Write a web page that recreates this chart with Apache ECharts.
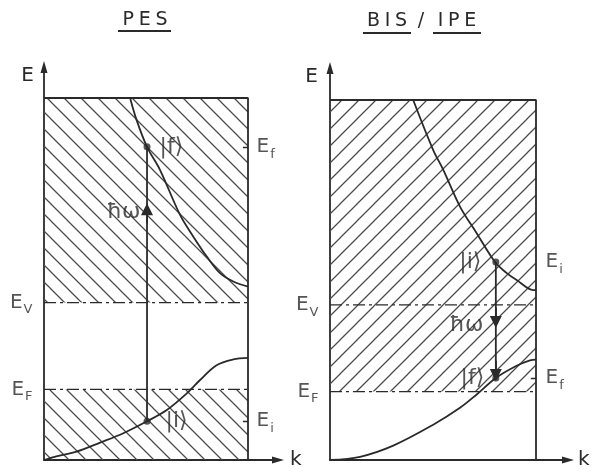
<!DOCTYPE html>
<html>
<head>
<meta charset="utf-8">
<script src="https://cdn.jsdelivr.net/npm/echarts@6/dist/echarts.min.js"></script>
<style>
  html, body { margin: 0; padding: 0; background: #fff; }
  #chart { width: 594px; height: 476px; }
</style>
</head>
<body>
<div id="chart"></div>
<script>
// Schematic band pictures for photoemission (PES) and inverse photoemission (BIS/IPE).
// Energies are in arbitrary units: the drawn box spans k = 0..1 and E = 0..10.

const BOX_K = [0, 1];
const BOX_E = [0, 10];

// ---- PES panel ----
const pesUpperK = [0.422, 0.454, 0.505, 0.569, 0.667, 0.732, 0.798, 0.863, 0.928, 1.0];
const pesUpperE = [10.0, 9.39, 8.65, 8.01, 6.77, 6.17, 5.62, 5.16, 4.93, 4.79];
const pesLowerK = [0, 0.065, 0.16, 0.275, 0.389, 0.505, 0.602, 0.7, 0.765, 0.846, 0.928, 1.0];
const pesLowerE = [0, 0.11, 0.23, 0.48, 0.74, 1.07, 1.38, 1.84, 2.21, 2.62, 2.78, 2.82];
const pesVacuum = 4.35;   // E_V
const pesFermi = 1.95;    // E_F
const pesK = 0.505;       // k of the vertical transition
const pesEi = 1.07;       // |i>
const pesEf = 8.65;       // |f>
const pesArrowE = 6.93;   // arrow head on the photon line
// hatched (occupied / unoccupied continuum) regions: [k0, E0, k1, E1]
const pesHatch = [[0, pesVacuum, 1, 10], [0, 0, 1, pesFermi]];

// ---- BIS / IPE panel ----
const bisUpperK = [0.404, 0.501, 0.55, 0.631, 0.712, 0.801, 0.858, 0.906, 0.987, 1.0];
const bisUpperE = [10.0, 8.61, 8.06, 7.04, 6.30, 5.50, 5.19, 5.0, 4.72, 4.72];
const bisLowerK = [0, 0.146, 0.307, 0.501, 0.631, 0.712, 0.805, 0.906, 0.971, 1.0];
const bisLowerE = [0, 0.09, 0.40, 0.98, 1.45, 1.82, 2.28, 2.62, 2.77, 2.79];
const bisVacuum = 4.31;
const bisFermi = 1.90;
const bisK = 0.805;
const bisEi = 5.50;
const bisEf = 2.28;
const bisArrowE = [3.83, 2.36];
const bisHatch = [[0, bisFermi, 1, 10]];

const INK = '#2a2a2a';
const HATCH_INK = '#4a4a4a';
const FONT = 'DejaVu Sans';

// diagonal hatch tile; dir = -1 draws "\" lines, dir = +1 draws "/" lines
function hatchTile(dir) {
  const s = 17;
  const c = document.createElement('canvas');
  c.width = s; c.height = s;
  const g = c.getContext('2d');
  g.strokeStyle = HATCH_INK;
  g.lineWidth = 1.25;
  g.beginPath();
  if (dir > 0) {
    g.moveTo(-2, s + 2); g.lineTo(s + 2, -2);
    g.moveTo(-2, 2); g.lineTo(2, -2);
    g.moveTo(s - 2, s + 2); g.lineTo(s + 2, s - 2);
  } else {
    g.moveTo(-2, -2); g.lineTo(s + 2, s + 2);
    g.moveTo(s - 2, -2); g.lineTo(s + 2, 2);
    g.moveTo(-2, s - 2); g.lineTo(2, s + 2);
  }
  g.stroke();
  return c;
}

const zip = (ks, es) => ks.map((k, i) => [k, es[i]]);

const rich = {
  cap: { fontSize: 20, fontFamily: FONT, color: INK },
  sub: { fontSize: 13, fontFamily: FONT, color: INK, padding: [15, 0, 0, 1] },
  sym: { fontSize: 22, fontFamily: FONT, color: INK }
};

function axisCommon(gridIndex, max, name, nameGap, nameStyle) {
  return {
    gridIndex, type: 'value', min: 0, max,
    name, nameLocation: 'end', nameGap,
    nameTextStyle: Object.assign({ fontSize: 20, fontFamily: FONT, color: INK }, nameStyle),
    axisLine: {
      show: true, onZero: false,
      symbol: ['none', 'triangle'], symbolSize: [7, 12],
      lineStyle: { color: INK, width: 1.8 }
    },
    axisTick: { show: false },
    axisLabel: { show: false },
    splitLine: { show: false }
  };
}

function panelSeries(g, p) {
  const ax = { xAxisIndex: g, yAxisIndex: g };
  const pattern = { image: hatchTile(p.hatchDir), repeat: 'repeat' };
  const line = (data, extra) => Object.assign({
    type: 'line', ...ax, data, symbol: 'none', silent: true,
    lineStyle: { color: INK, width: 1.8 }
  }, extra || {});
  const out = [];
  out.push({
    type: 'custom', ...ax, silent: true,
    data: p.hatch,
    encode: { x: [0, 2], y: [1, 3] },
    renderItem: (params, api) => {
      const a = api.coord([api.value(0), api.value(3)]);
      const b = api.coord([api.value(2), api.value(1)]);
      return {
        type: 'rect',
        shape: { x: a[0], y: a[1], width: b[0] - a[0], height: b[1] - a[1] },
        style: { fill: pattern, stroke: null }
      };
    },
    z: 1
  });
  // top and right edges of the box
  out.push(line([[BOX_K[0], BOX_E[1]], [BOX_K[1], BOX_E[1]], [BOX_K[1], BOX_E[0]]], { z: 3 }));
  // vacuum and Fermi levels (dash-dot)
  [p.vacuum, p.fermi].forEach(E => {
    out.push(line([[BOX_K[0], E], [BOX_K[1], E]], {
      lineStyle: { color: INK, width: 1.3, type: [12, 4, 3, 4] }, z: 3
    }));
  });
  // bands
  out.push(line(p.upper, { smooth: 0.35, z: 4 }));
  out.push(line(p.lower, { smooth: 0.35, z: 4 }));
  // photon transition line
  out.push(line([[p.k, p.Ei], [p.k, p.Ef]], { z: 5 }));
  // arrow heads on the transition line
  out.push({
    type: 'lines', coordinateSystem: 'cartesian2d', ...ax, silent: true,
    symbol: ['none', 'triangle'], symbolSize: [7, 12],
    lineStyle: { color: INK, width: 1.8, opacity: 1 },
    itemStyle: { color: INK },
    data: p.arrows.map(E => ({ coords: [[p.k, E - p.dir * 0.4], [p.k, E]] })),
    z: 6
  });
  // small ticks on the right edge at the state energies
  out.push({
    type: 'lines', coordinateSystem: 'cartesian2d', ...ax, silent: true,
    lineStyle: { color: INK, width: 1.4, opacity: 1 },
    data: p.ticks.map(E => ({ coords: [[BOX_K[1] - 0.025, E], [BOX_K[1], E]] })),
    z: 6
  });
  // states |i> and |f>
  out.push({
    type: 'scatter', ...ax, silent: true, symbolSize: 7,
    itemStyle: { color: INK },
    data: [[p.k, p.Ei], [p.k, p.Ef]], z: 7
  });
  // text labels anchored to data points
  out.push({
    type: 'scatter', ...ax, silent: true, symbolSize: 1,
    itemStyle: { color: 'rgba(0,0,0,0)' },
    label: { show: true, rich, color: INK, fontFamily: FONT, fontSize: 20 },
    data: p.labels.map(l => ({
      value: [l[0], l[1]],
      label: { formatter: l[2], position: l[3], distance: l[4] }
    })),
    z: 8
  });
  return out;
}

const pes = {
  hatchDir: -1, hatch: pesHatch,
  vacuum: pesVacuum, fermi: pesFermi,
  upper: zip(pesUpperK, pesUpperE), lower: zip(pesLowerK, pesLowerE),
  k: pesK, Ei: pesEi, Ef: pesEf, dir: 1, arrows: [pesArrowE],
  ticks: [pesEf, pesEi],
  labels: [
    [0, pesVacuum, '{cap|E}{sub|V}', 'left', 11],
    [0, pesFermi, '{cap|E}{sub|F}', 'left', 11],
    [1, pesEf, '{cap|E}{sub|f}', 'right', 8],
    [1, pesEi, '{cap|E}{sub|i}', 'right', 8],
    [pesK, pesEf, '{sym||f⟩}', 'right', 12],
    [pesK, pesEi, '{sym||i⟩}', 'right', 18],
    [pesK, pesArrowE - 0.1, '{sym|ħω}', 'left', 6]
  ]
};

const bis = {
  hatchDir: 1, hatch: bisHatch,
  vacuum: bisVacuum, fermi: bisFermi,
  upper: zip(bisUpperK, bisUpperE), lower: zip(bisLowerK, bisLowerE),
  k: bisK, Ei: bisEi, Ef: bisEf, dir: -1, arrows: bisArrowE,
  ticks: [bisEf],
  labels: [
    [0, bisVacuum, '{cap|E}{sub|V}', 'left', 11],
    [0, bisFermi, '{cap|E}{sub|F}', 'left', 11],
    [1, bisEi, '{cap|E}{sub|i}', 'right', 9],
    [1, bisEf, '{cap|E}{sub|f}', 'right', 9],
    [bisK, bisEi, '{sym||i⟩}', 'left', 14],
    [bisK, bisEf, '{sym||f⟩}', 'left', 11],
    [bisK, 3.75, '{sym|ħω}', 'left', 12]
  ]
};

const chart = echarts.init(document.getElementById('chart'), null, { renderer: 'canvas' });

const titleStyle = { fontSize: 19, fontFamily: FONT, fill: INK, align: 'center', verticalAlign: 'middle' };
const underline = (x1, x2, y) => ({
  type: 'line', shape: { x1, y1: y, x2, y2: y }, style: { stroke: INK, lineWidth: 2 }
});

chart.setOption({
  animation: false,
  backgroundColor: '#fff',
  grid: [
    { left: 44, top: 67, width: 234, height: 393 },
    { left: 330, top: 68, width: 238, height: 392 }
  ],
  xAxis: [
    axisCommon(0, 234 / 204, 'k', 12, { verticalAlign: 'middle' }),
    axisCommon(1, 238 / 206, 'k', 10, { verticalAlign: 'middle' })
  ],
  yAxis: [
    axisCommon(0, 393 / 36.2, 'E', 1, { align: 'right', verticalAlign: 'top', padding: [0, 10, 0, 0] }),
    axisCommon(1, 392 / 36.0, 'E', 1, { align: 'right', verticalAlign: 'top', padding: [0, 12, 0, 0] })
  ],
  graphic: [
    { type: 'text', x: 145, y: 20, style: Object.assign({ text: 'P\u2005E\u2005S' }, titleStyle) },
    underline(118, 171, 31),
    { type: 'text', x: 387, y: 21, style: Object.assign({ text: 'B\u2005I\u2005S' }, titleStyle) },
    { type: 'text', x: 421, y: 21, style: Object.assign({ text: '/' }, titleStyle) },
    { type: 'text', x: 457, y: 21, style: Object.assign({ text: 'I\u2005P\u2005E' }, titleStyle) },
    underline(363, 411, 33),
    underline(433, 481, 33)
  ],
  series: [...panelSeries(0, pes), ...panelSeries(1, bis)]
});
</script>
</body>
</html>
